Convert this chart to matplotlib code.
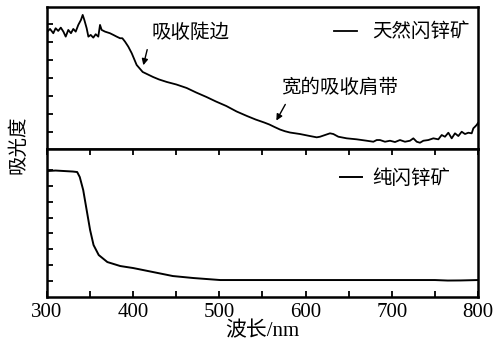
import matplotlib
matplotlib.use("Agg")
import matplotlib.pyplot as plt
import numpy as np

# natural sphalerite (top panel), arbitrary absorbance units
wl_nat = [300, 303.5, 307.3, 310, 313, 316, 319, 321.7, 324.7, 327.8, 330.5, 333.3,
          336.3, 339.4, 341.4, 343.3, 346, 348, 350.7, 353.7, 356.5, 359.5, 361.5,
          363.4, 367.3, 373, 377, 380.8, 384.7, 387.4, 390.5, 394.3, 398.3, 404,
          411, 417, 423, 430, 439, 450, 462, 473, 485, 496, 508, 520, 532, 542,
          552, 558, 564, 570.3, 576, 581.9, 593.5, 605, 612.9, 616.7, 622.5, 628.3, 632.2,
          638, 647.7, 659.3, 670.9, 678.6, 682.5, 686.3, 692.1, 697.9, 703.7,
          709.5, 715.3, 721.1, 725, 728.9, 732.7, 736.6, 742.4, 748.2, 754,
          757.9, 761.7, 765.6, 769.5, 773.3, 777.2, 781.1, 784.9, 788.8, 792.7,
          794.6, 796.5, 798.4, 800]
abs_nat = [117, 120, 115.7, 120.7, 118, 121.3, 117.3, 112.3, 119, 115.7, 120, 117.3,
           124, 129, 134, 129, 120.7, 112.3, 114, 111.3, 114.7, 112.3, 124,
           119, 117.3, 115.7, 114, 112.3, 110.7, 110.7, 107.3, 102.3, 95.7, 84,
           77, 74.5, 72, 69.5, 67, 64.5, 61, 56.5, 52, 47.5, 43, 37.5, 33, 29.5,
           26.5, 24.5, 22, 19.5, 17.8, 16.5, 15, 13, 11.7, 12.3, 14, 15.7, 15,
           12.3, 10.7, 9.7, 8.3, 7.3, 9, 9, 7.3, 8.3, 7,
           9, 7.3, 8.3, 10.7, 7.3, 6.3, 8.3, 9, 10.7, 9.7,
           14, 12.3, 16.3, 10.7, 15.7, 13, 17.3, 15, 16.3, 15.7,
           20.7, 22.3, 24, 26]

# pure sphalerite (bottom panel)
wl_pure = [300, 310, 320, 330, 335, 338, 342, 346, 350, 354, 360, 370, 385, 400,
           423, 446, 470, 501, 550, 600, 650, 700, 750, 765, 780, 800]
abs_pure = [126, 126.5, 126, 125.5, 125, 120, 107, 87, 67, 52, 42, 35, 31, 29,
            25, 21, 19, 17, 17, 17, 17, 17, 17, 16.5, 16.6, 17]

cjk = ['Noto Sans CJK SC']
serif_cjk = ['Liberation Serif', 'Noto Sans CJK SC']

fig = plt.figure(figsize=(4.99, 3.45), dpi=100)
ax1 = fig.add_axes([0.0942, 0.568, 0.8637, 0.412])
ax2 = fig.add_axes([0.0942, 0.139, 0.8637, 0.429])

ax1.plot(wl_nat, abs_nat, color='black', lw=1.3)
ax2.plot(wl_pure, abs_pure, color='black', lw=1.4)

ax1.set_xlim(300, 800)
ax2.set_xlim(300, 800)
ax1.set_ylim(0, 142)
ax2.set_ylim(0, 148)

for ax in (ax1, ax2):
    for s in ax.spines.values():
        s.set_linewidth(1.8)
    ax.tick_params(axis='y', direction='in', length=4.5, width=1.3, labelleft=False,
                   right=False)

ax1.set_yticks(np.arange(17, 142, 18))
ax2.set_yticks(np.arange(16, 140, 15.85))

ax1.tick_params(axis='x', bottom=False, labelbottom=False)
ax2.set_xticks(np.arange(300, 801, 100))
ax2.set_xticks(np.arange(350, 800, 100), minor=True)
ax2.tick_params(axis='x', which='both', direction='in', length=4.5, width=1.3,
                top=True, labelsize=15, pad=4)
for lab in ax2.get_xticklabels():
    lab.set_family('Liberation Serif')

ax2.set_xlabel('波长/nm', family=serif_cjk, fontsize=15, labelpad=0)
fig.text(0.036, 0.58, '吸光度', family=cjk, fontsize=14, rotation=90,
         ha='center', va='center')

# annotations
ax1.text(467, 116, '吸收陡边', family=cjk, fontsize=14, ha='center', va='center')
ax1.annotate('', xy=(411, 81), xytext=(417, 102),
             arrowprops=dict(arrowstyle='-|>', color='black', lw=1, mutation_scale=9))
ax1.text(639, 61, '宽的吸收肩带', family=cjk, fontsize=14, ha='center', va='center')
ax1.annotate('', xy=(564.5, 26), xytext=(578, 47),
             arrowprops=dict(arrowstyle='-|>', color='black', lw=1, mutation_scale=9))

leg1 = ax1.legend([ax1.lines[0]], ['天然闪锌矿'], loc='center right',
                  bbox_to_anchor=(0.981, 0.824), frameon=False, borderpad=0,
                  borderaxespad=0, handlelength=1.15, handletextpad=0.8,
                  prop={'family': cjk, 'size': 14})
leg2 = ax2.legend([ax2.lines[0]], ['纯闪锌矿'], loc='center right',
                  bbox_to_anchor=(0.935, 0.804), frameon=False, borderpad=0,
                  borderaxespad=0, handlelength=1.15, handletextpad=0.5,
                  prop={'family': cjk, 'size': 14})

fig.savefig('out.png', dpi=100)
